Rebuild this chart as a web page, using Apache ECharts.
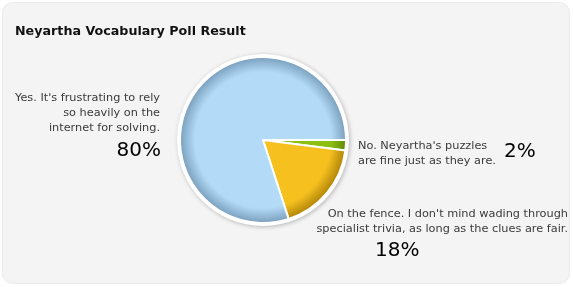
<!DOCTYPE html>
<html><head><meta charset="utf-8">
<script src="https://cdn.jsdelivr.net/npm/echarts@6/dist/echarts.min.js"></script>
<style>html,body{margin:0;padding:0;background:#fff}#c{width:573px;height:287px}</style>
</head><body><div id="c"></div>
<script>
const titleText = 'Neyartha Vocabulary Poll Result';
const categories = [
  "No. Neyartha's puzzles\nare fine just as they are.",
  "On the fence. I don't mind wading through\nspecialist trivia, as long as the clues are fair.",
  "Yes. It's frustrating to rely\nso heavily on the\ninternet for solving."
];
const values = [2, 18, 80];
const colors = ['#8dbf12', '#f6c11f', '#b3dbf8'];
const edgeColors = ['#5f8a08', '#b08408', '#7a9fbd'];

const cx = 263, cy = 140, R = 83;
const chart = echarts.init(document.getElementById('c'), null, {renderer: 'canvas'});

const textPos = [
  {x: 358, y: 154, align: 'left', verticalAlign: 'middle'},
  {x: 568, y: 222, align: 'right', verticalAlign: 'middle'},
  {x: 160, y: 113, align: 'right', verticalAlign: 'middle'}
];
const pctPos = [
  {x: 504, y: 152, align: 'left', verticalAlign: 'middle'},
  {x: 375, y: 251, align: 'left', verticalAlign: 'middle'},
  {x: 161, y: 151, align: 'right', verticalAlign: 'middle'}
];

function grad(i) {
  return {
    type: 'radial', x: cx, y: cy, r: R, global: true,
    colorStops: [
      {offset: 0, color: colors[i]},
      {offset: 0.82, color: colors[i]},
      {offset: 1, color: edgeColors[i]}
    ]
  };
}

const total = values.reduce((a, b) => a + b, 0);
const pieData = categories.map((c, i) => ({name: c, value: values[i], itemStyle: {color: grad(i)}}));
const pctData = categories.map((c, i) => ({name: c, value: values[i]}));

chart.setOption({
  animation: false,
  backgroundColor: '#ffffff',
  graphic: [
    {type: 'rect', shape: {x: 2.5, y: 2.5, width: 567, height: 281, r: 10}, style: {fill: '#f4f4f4', stroke: '#ebebeb', lineWidth: 1}, z: -10},
    {type: 'circle', shape: {cx: cx, cy: cy, r: R + 3}, style: {fill: '#ffffff', shadowBlur: 4, shadowColor: 'rgba(0,0,0,0.25)', shadowOffsetX: 1, shadowOffsetY: 1}, z: -5}
  ],
  title: {
    text: titleText, left: 10, top: 20,
    textStyle: {fontFamily: 'DejaVu Sans', fontSize: 12.7, fontWeight: 'bold', color: '#111'}
  },
  series: [
    {
      type: 'pie', center: [cx, cy], radius: [0, R], startAngle: 0, clockwise: true,
      data: pieData,
      itemStyle: {borderColor: '#ffffff', borderWidth: 2},
      emphasis: {disabled: true},
      label: {
        show: true, formatter: '{b}', fontFamily: 'DejaVu Sans', fontSize: 11.3, lineHeight: 15, color: '#3a3a3a',
        overflow: 'none', width: 400
      },
      labelLine: {show: false},
      labelLayout: function (p) { return textPos[p.dataIndex]; },
      z: 2
    },
    {
      type: 'pie', center: [cx, cy], radius: [0, R], startAngle: 0, clockwise: true,
      data: pctData, silent: true,
      itemStyle: {color: 'rgba(0,0,0,0)', borderWidth: 0},
      emphasis: {disabled: true},
      label: {
        show: true, formatter: function (p) { return Math.round(p.value / total * 100) + '%'; },
        fontFamily: 'DejaVu Sans', fontSize: 20, color: '#000', overflow: 'none', width: 200
      },
      labelLine: {show: false},
      labelLayout: function (p) { return pctPos[p.dataIndex]; },
      z: 3
    }
  ]
});
</script></body></html>
